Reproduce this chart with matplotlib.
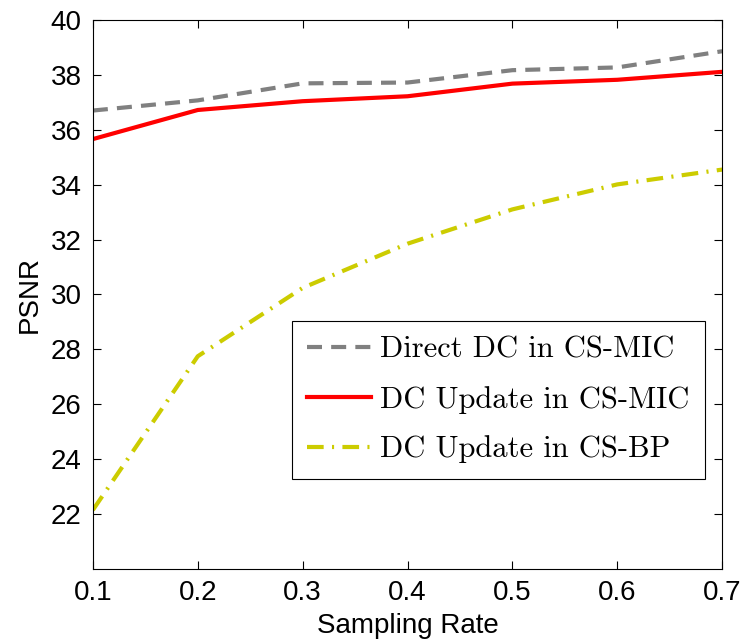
import numpy as np
import matplotlib.pyplot as plt

# Data
rate = [0.1, 0.2, 0.3, 0.4, 0.5, 0.6, 0.7]
direct_mic = [36.70, 37.07, 37.69, 37.72, 38.17, 38.27, 38.86]
update_mic = [35.66, 36.72, 37.04, 37.22, 37.68, 37.82, 38.11]
update_bp = [22.15, 27.75, 30.24, 31.85, 33.10, 34.01, 34.55]
labels = ["Direct DC in CS-MIC", "DC Update in CS-MIC", "DC Update in CS-BP"]

plt.rcParams['font.family'] = 'Liberation Sans'

fig = plt.figure(figsize=(7.43, 6.43), dpi=100)
ax = fig.add_axes([0.125, 0.115, 0.847, 0.854])

ax.plot(rate, direct_mic, color=(0.5, 0.5, 0.5), lw=3, ls=(0, (3.6, 2.2)), label=labels[0])
ax.plot(rate, update_mic, color='red', lw=3, label=labels[1])
ax.plot(rate, update_bp, color=(0.8, 0.8, 0), lw=3, ls=(0, (4, 2, 0.5, 2)), label=labels[2])

ax.set_xlim(0.1, 0.7)
ax.set_ylim(20, 40)
ax.set_xticks(rate)
ax.set_yticks(np.arange(22, 41, 2))
ax.tick_params(direction='in', top=True, right=True, labelsize=20, length=6, width=0.8, pad=8)
ax.set_xlabel("Sampling Rate", fontsize=20, labelpad=5)
ax.set_ylabel("PSNR", fontsize=20, labelpad=6)

leg = ax.legend(loc='upper left', bbox_to_anchor=(0.316, 0.452), borderaxespad=0,
                prop={'family': 'cmr10', 'size': 22}, fancybox=False, edgecolor='black',
                framealpha=1, handlelength=2.1, labelspacing=0.72, handletextpad=0.3,
                borderpad=0.5)
leg.get_frame().set_linewidth(0.8)

fig.savefig("out.png", dpi=100)
